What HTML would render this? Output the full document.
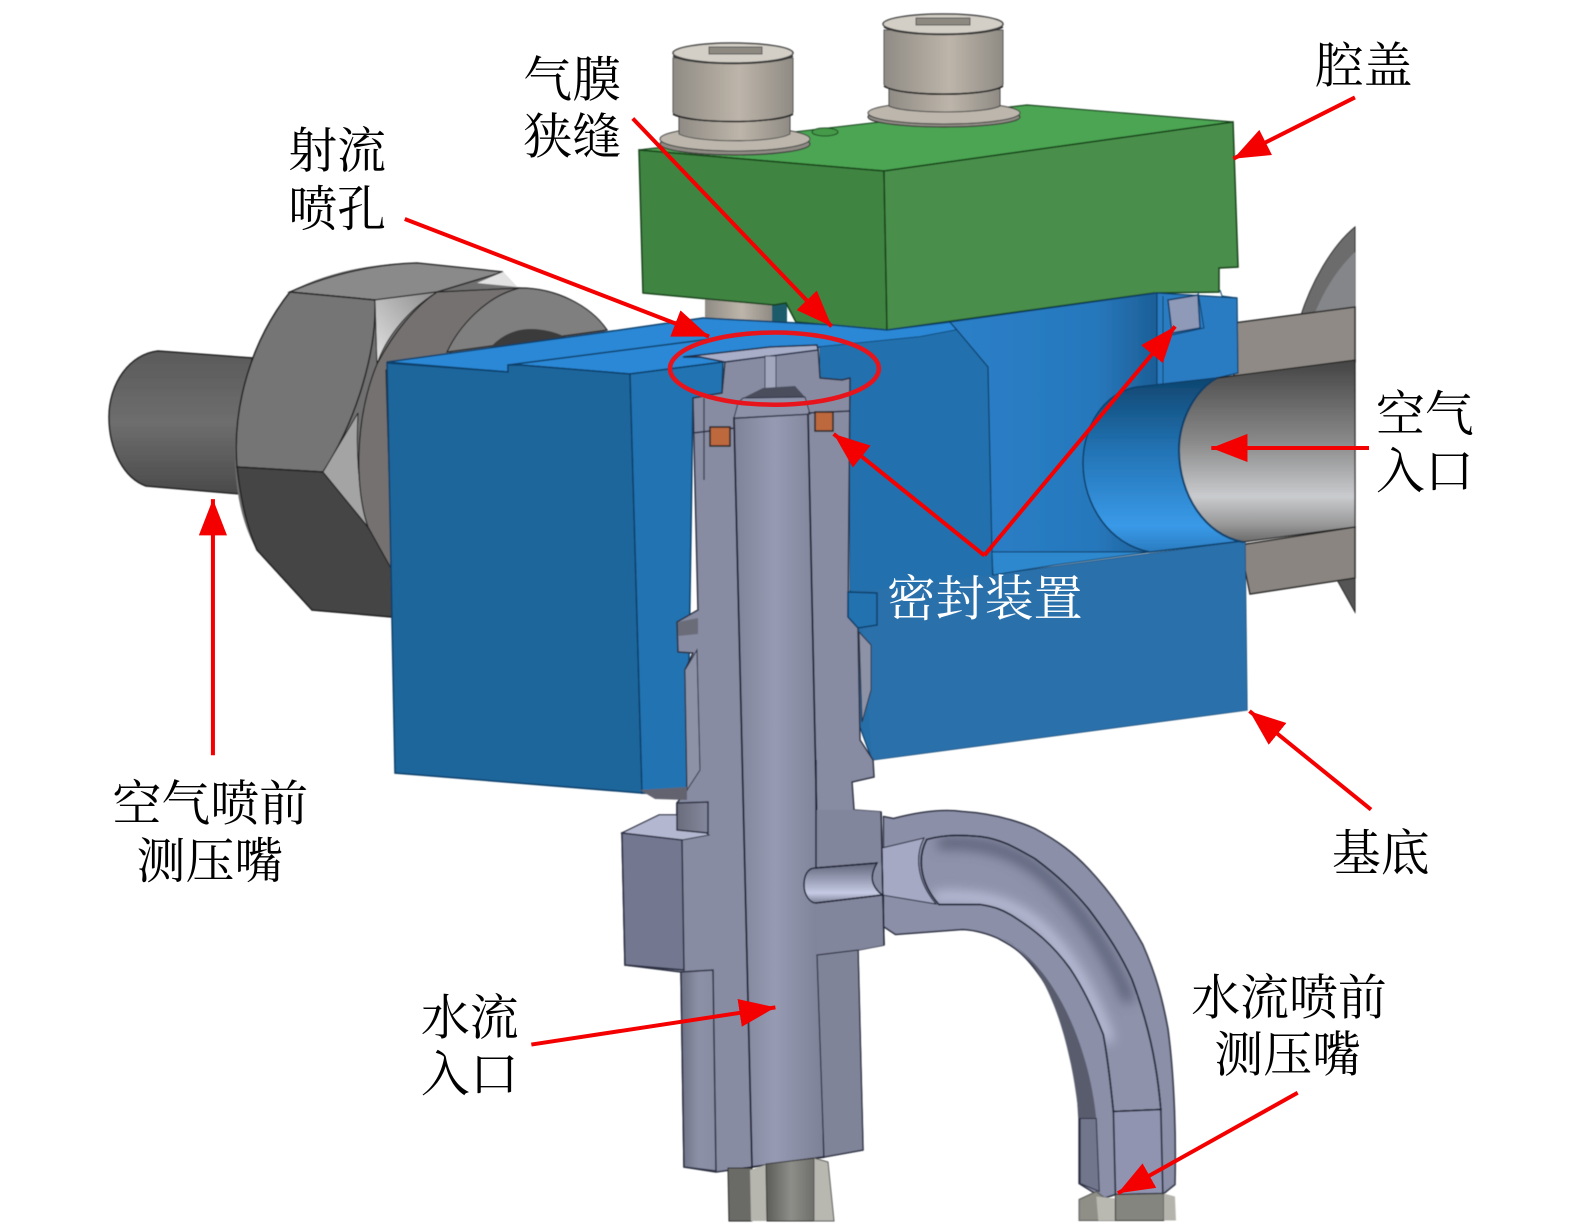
<!DOCTYPE html>
<html lang="zh">
<head>
<meta charset="utf-8">
<title>结构示意图</title>
<style>
html,body{margin:0;padding:0;background:#fff;}
svg{display:block;}
text{font-family:"Liberation Serif","Noto Serif CJK SC",serif;font-size:48.7px;fill:#000;}
</style>
</head>
<body>
<svg width="1575" height="1231" viewBox="0 0 1575 1231" xmlns="http://www.w3.org/2000/svg">
<defs>
<linearGradient id="stub" x1="0" y1="0" x2="0" y2="1"><stop offset="0" stop-color="#5a5a5a"/><stop offset=".5" stop-color="#6e6e6e"/><stop offset="1" stop-color="#4a4a4a"/></linearGradient>
<linearGradient id="cyl" x1="0" y1="0" x2="0" y2="1"><stop offset="0" stop-color="#444"/><stop offset=".45" stop-color="#8a8a8a"/><stop offset=".75" stop-color="#c9cbce"/><stop offset=".9" stop-color="#9a9a9a"/><stop offset="1" stop-color="#6a6a6a"/></linearGradient>
<linearGradient id="hole" x1="0" y1="0" x2="0" y2="1"><stop offset="0" stop-color="#0f4670"/><stop offset=".4" stop-color="#2272b2"/><stop offset=".85" stop-color="#3a9ae8"/><stop offset="1" stop-color="#2a7cc0"/></linearGradient>
<linearGradient id="mid" x1="0" y1="0" x2="1" y2="0"><stop offset="0" stop-color="#2a80c8"/><stop offset=".7" stop-color="#2878bc"/><stop offset="1" stop-color="#1c5f98"/></linearGradient>
<linearGradient id="bolt" x1="0" y1="0" x2="1" y2="0"><stop offset="0" stop-color="#8f8b84"/><stop offset=".55" stop-color="#bdb5aa"/><stop offset="1" stop-color="#8f8b84"/></linearGradient>
<linearGradient id="bore" x1="0" y1="0" x2="1" y2="0"><stop offset="0" stop-color="#7f8399"/><stop offset=".45" stop-color="#969ab2"/><stop offset="1" stop-color="#7d8197"/></linearGradient>
<linearGradient id="cross" x1="0" y1="0" x2="0" y2="1"><stop offset="0" stop-color="#62667c"/><stop offset=".75" stop-color="#c6cbe4"/><stop offset="1" stop-color="#7c8096"/></linearGradient>
<linearGradient id="tab" x1="0" y1="0" x2="1" y2="0"><stop offset="0" stop-color="#6a6c7c"/><stop offset="1" stop-color="#85899d"/></linearGradient>
<linearGradient id="leg" x1="0" y1="0" x2="1" y2="0"><stop offset="0" stop-color="#6c7084"/><stop offset=".5" stop-color="#8d91a7"/><stop offset="1" stop-color="#888ca2"/></linearGradient>
<linearGradient id="hex" x1="0" y1="0" x2="1" y2="0"><stop offset="0" stop-color="#5c5c58"/><stop offset=".5" stop-color="#8e8e89"/><stop offset="1" stop-color="#6c6c68"/></linearGradient>
<linearGradient id="tri" x1="1" y1="0" x2="0" y2="1"><stop offset="0" stop-color="#8c8c8c"/><stop offset="1" stop-color="#e4e4e4"/></linearGradient>
<marker id="ah" markerUnits="userSpaceOnUse" markerWidth="42" markerHeight="30" refX="36" refY="14" orient="auto"><path d="M0,0 L36,14 L0,28 Z" fill="#f40000"/></marker>
<filter id="s" x="-2%" y="-2%" width="104%" height="104%"><feGaussianBlur stdDeviation=".45"/></filter>
<filter id="b" filterUnits="userSpaceOnUse" x="880" y="800" width="320" height="400"><feGaussianBlur stdDeviation="6"/></filter>
<clipPath id="borec"><path d="M924,838 C945,832 965,834 977,835 C1000,838 1015,848 1031,857 C1055,875 1070,890 1084,907 C1105,935 1117,955 1127,977 C1143,1020 1152,1060 1156,1108 L1109,1110 C1106,1080 1103,1055 1099,1033 C1088,1005 1078,985 1066,967 C1048,942 1030,928 1013,917 C1000,908 990,905 977,903 L936,903 C916,880 915,855 924,838 Z"/></clipPath>
</defs>

<g filter="url(#s)">
<!-- right disc and plates -->
<path d="M1300,318 C1312,280 1333,245 1355,227 L1355,320 Z" fill="#6c6c6c" stroke="#2c2c2c"/>
<path d="M1314,315 C1324,290 1338,268 1355,252 L1355,320 Z" fill="#85868a"/>
<path d="M1336,578 L1355,575 L1355,612 Z" fill="#555" stroke="#222"/>
<path d="M1234,323 L1355,307 L1355,362 L1234,378 Z" fill="#8f8a85" stroke="#2a2a2a" stroke-width="1.5"/>
<path d="M1240,545 L1355,527 L1355,578 L1250,594 Z" fill="#8a8580" stroke="#2a2a2a" stroke-width="1.5"/>

<!-- left fitting -->
<path d="M158,351 L252,358 L240,494 L146,486 C124,478 109,450 109,417 C109,383 130,354 158,351 Z" fill="url(#stub)" stroke="#222" stroke-width="1.5"/>
<path d="M290,292 C330,270 380,263 417,263 L503,272 L517,287 L540,290 C565,292 590,308 607,330 L460,420 L392,617 L312,610 L257,550 C242,525 235,490 235,455 C235,390 258,335 290,292 Z" fill="#6f6f6f"/>
<path d="M290,292 C335,272 380,264 417,263 L503,272 L437,292 L375,300 Z" fill="#8a8a8a" stroke="#2a2a2a" stroke-width="1.5"/>
<path d="M290,292 L375,300 C377,350 357,420 323,472 L237,467 C232,405 252,340 290,292 Z" fill="#747474" stroke="#222" stroke-width="1.5"/>
<path d="M237,467 L323,472 L368,527 L392,565 L392,617 L312,610 L257,550 C246,525 240,495 237,467 Z" fill="#444" stroke="#222" stroke-width="1.5"/>
<path d="M323,472 L358,413 C356,450 358,490 368,527 Z" fill="#a4a4a4" stroke="#222"/>
<path d="M375,300 L437,292 C405,312 385,340 377,364 Z" fill="url(#tri)" stroke="#222"/>
<path d="M477,283 L503,272 L517,287 Z" fill="#e2e2e2"/>
<path d="M377,364 C390,340 410,310 437,292 L520,288 C490,300 460,330 447,360 L386,370 L392,570 L368,527 C355,490 354,420 377,364 Z" fill="#74716f" stroke="#222" stroke-width="1.2"/>
<path d="M447,352 C458,328 485,296 520,288 C555,288 590,305 607,330 Z" fill="#7f7f7f" stroke="#222" stroke-width="1.2"/>
<path d="M490,348 C500,336 515,329 530,329 C545,329 558,333 565,337 Z" fill="#3a3a3a"/>

<!-- bolt shaft below the cover -->
<path d="M705,295 L772,295 L772,330 L705,330 Z" fill="url(#bolt)"/>
<path d="M772,303 L787,303 L787,330 L772,330 Z" fill="#1d5c6a"/>

<!-- green cover -->
<path d="M639,150 L1027,105 L1233,122 L884,171 Z" fill="#4ca552" stroke="#14401a" stroke-width="1.2"/>
<ellipse cx="825" cy="132" rx="13" ry="4" fill="#449a4a" stroke="#173f1b"/>
<path d="M639,150 L884,171 L887,330 L829,325 L796,322 L786,303 L774,305 L643,293 Z" fill="#3f8442" stroke="#123f17" stroke-width="1.5"/>
<path d="M884,171 L1233,122 L1238,267 L1219,268 L1219,292 L1154,293 L887,330 Z" fill="#4a8f4c" stroke="#123f17" stroke-width="1.5"/>

<!-- bolts -->
<ellipse cx="735" cy="144" rx="75" ry="11" fill="#8f8b84" stroke="#3a3a3a" stroke-width="1.2"/>
<ellipse cx="735" cy="139" rx="75" ry="12" fill="#bcb6ac" stroke="#3a3a3a" stroke-width="1"/>
<path d="M679,116 L679,134 C695,143 775,143 790,134 L790,116 Z" fill="url(#bolt)" stroke="#444"/>
<path d="M673,58 L673,112 C673,125 793,125 793,112 L793,58 Z" fill="url(#bolt)" stroke="#555"/>
<path d="M673,114 C690,124 776,124 793,114" fill="none" stroke="#222" stroke-width="1.6"/>
<ellipse cx="733" cy="53" rx="60" ry="10" fill="#d3cfc6" stroke="#444" stroke-width="1.5"/>
<path d="M673,56 C690,66 776,66 793,56" fill="none" stroke="#333" stroke-width="1.5"/>
<rect x="709" y="47" width="53" height="7" fill="#8d8981" stroke="#555"/>

<ellipse cx="944" cy="117" rx="76" ry="10" fill="#8f8b84" stroke="#3a3a3a" stroke-width="1.2"/>
<ellipse cx="944" cy="113" rx="76" ry="11" fill="#bcb6ac" stroke="#3a3a3a" stroke-width="1"/>
<path d="M889,89 L889,106 C905,114 985,114 1000,106 L1000,89 Z" fill="url(#bolt)" stroke="#444"/>
<path d="M884,30 L884,84 C884,97 1003,97 1003,84 L1003,30 Z" fill="url(#bolt)" stroke="#555"/>
<path d="M884,86 C900,97 987,97 1003,86" fill="none" stroke="#222" stroke-width="1.6"/>
<ellipse cx="943" cy="24" rx="60" ry="10" fill="#d3cfc6" stroke="#444" stroke-width="1.5"/>
<path d="M884,27 C900,37 987,37 1003,27" fill="none" stroke="#333" stroke-width="1.5"/>
<rect x="916" y="18" width="54" height="7" fill="#8d8981" stroke="#555"/>

<!-- blue back/top -->
<path d="M387,362 L620,330 L703,318 L833,325 L887,330 L950,322 L957,330 L920,337 L820,347 L723,362 L630,374 L520,365 L508,365 L508,372 Z" fill="#2a88d6" stroke="#0d3f6a" stroke-width="1.5" stroke-linejoin="round"/>
<path d="M508,365 L703,340 L770,332" fill="none" stroke="#0d3f6a" stroke-width="1.5"/>
<!-- left outer face -->
<path d="M387,363 L508,372 L508,365 L520,365 L630,374 L642,793 L395,773 Z" fill="#1f669c" stroke="#0d3f6a" stroke-width="1.5"/>
<!-- section face left -->
<path d="M630,374 L723,362 L722,393 L693,398 L687,795 L642,793 Z" fill="#2173b2" stroke="#0d3f6a" stroke-width="1.5"/>

<!-- blue right faces -->
<path d="M820,347 L920,337 L957,330 L988,367 L992,575 L1245,541 L1247,710 L872,760 L850,700 L850,378 L842,380 L820,378 Z" fill="#256ea7" stroke="#0d3f6a" stroke-width="1.2"/>
<path d="M820,347 L920,337 L957,330 L988,367 L992,575 L875,590 L850,590 L850,378 L842,380 L820,378 Z" fill="#2070ad"/>
<path d="M992,575 L1245,541 L1247,710 L872,760 L862,620 L875,590 Z" fill="#2a70aa"/>
<!-- middle -->
<path d="M950,322 L1157,293 L1157,386 L1137,387 C1105,392 1083,425 1083,463 C1083,505 1110,545 1150,552 L992,552 L988,367 L957,330 Z" fill="url(#mid)" stroke="#0d3f6a" stroke-width="1.2"/>
<path d="M1157,293 L1237,298 L1238,373 L1217,378 L1157,386 Z" fill="#2a7cc2" stroke="#0d3f6a" stroke-width="1.2"/>
<path d="M992,552 L1150,552 L1055,565 L993,575 Z" fill="#2f88ce" stroke="#0d3f6a"/>
<path d="M1237,298 L1222,296 L1220,290" fill="none" stroke="#0d3f6a"/>
<path d="M1163,296 L1163,384" fill="none" stroke="#0d3f6a"/>
<path d="M1168,300 L1198,295 L1200,328 L1172,333 Z" fill="#8f99b8" stroke="#123f6a" stroke-width="1.5"/>
<path d="M1198,292 L1204,328 L1172,335" fill="none" stroke="#0d3f6a"/>
<!-- bore in block -->
<path d="M1217,378 L1137,387 C1105,392 1083,425 1083,463 C1083,505 1110,545 1150,552 L1243,541 C1205,530 1181,495 1181,450 C1181,420 1195,390 1217,378 Z" fill="url(#hole)" stroke="#0d3f6a" stroke-width="1.5"/>
<!-- air inlet cylinder -->
<path d="M1217,378 L1355,360 L1355,527 L1243,542 C1205,535 1179,495 1179,450 C1179,420 1195,390 1217,378 Z" fill="url(#cyl)" stroke="#1b1b1b" stroke-width="1.2"/>
<path d="M1217,378 C1195,390 1179,420 1179,450 C1179,495 1205,535 1243,542" fill="none" stroke="#0d3f6a" stroke-width="2"/>

<!-- elbow -->
<g transform="translate(-5.58,1.5) scale(1.009,1)">
<path d="M881,815 L891,817 C925,808 945,808 959,810 C990,812 1015,820 1031,827 C1055,840 1070,852 1084,867 C1110,895 1125,920 1138,943 C1152,975 1158,1000 1163,1027 C1170,1080 1171,1140 1170,1183 L1159,1192 L1111,1193 L1099,1197 L1075,1182 L1075,1117 C1073,1085 1072,1070 1070,1053 C1060,1018 1050,995 1038,977 C1020,950 1008,944 995,937 C980,930 965,928 959,928 L893,933 L881,925 Z" fill="#8b8fa7" stroke="#2a2e40" stroke-width="1.5" stroke-linejoin="round"/>
<path d="M924,838 C945,832 965,834 977,835 C1000,838 1015,848 1031,857 C1055,875 1070,890 1084,907 C1105,935 1117,955 1127,977 C1143,1020 1152,1060 1156,1108 L1109,1110 C1106,1080 1103,1055 1099,1033 C1088,1005 1078,985 1066,967 C1048,942 1030,928 1013,917 C1000,908 990,905 977,903 L936,903 C916,880 915,855 924,838 Z" fill="#8e92aa" stroke="#1f2335" stroke-width="1.5"/>
<g clip-path="url(#borec)">
<path d="M930,896 C985,892 1010,905 1030,920 C1060,945 1085,985 1105,1040" fill="none" stroke="#c2c6e0" stroke-width="10" filter="url(#b)"/>
<path d="M935,842 C985,838 1015,853 1040,873 C1075,905 1105,950 1125,1000" fill="none" stroke="#5c6078" stroke-width="12" filter="url(#b)"/>
</g>
<path d="M924,838 C945,832 965,834 977,835 C1000,838 1015,848 1031,857 C1055,875 1070,890 1084,907 C1105,935 1117,955 1127,977 C1143,1020 1152,1060 1156,1108 L1109,1110 C1106,1080 1103,1055 1099,1033 C1088,1005 1078,985 1066,967 C1048,942 1030,928 1013,917 C1000,908 990,905 977,903 L936,903 C916,880 915,855 924,838 Z" fill="none" stroke="#1f2335" stroke-width="1.5"/>
<path d="M1109,1110 L1156,1108 L1158,1192 L1111,1193 Z" fill="#9094b0" stroke="#1f2335" stroke-width="1.5"/>
<path d="M1000,937 C1032,952 1064,1010 1075,1117 L1092,1117 C1084,1040 1050,965 1000,937 Z" fill="#595c6d"/>
<path d="M1076,1117 L1092,1117 L1095,1190 L1076,1182 Z" fill="#72768c" stroke="#2a2e40"/>
<path d="M1075,1198 L1092,1190 L1110,1204 L1110,1219 L1075,1219 Z" fill="#8f8f87" stroke="#555"/>
<path d="M1092,1195 L1112,1197 L1112,1219 L1094,1219 Z" fill="#b9b9b1"/>
<path d="M1111,1193 L1159,1192 L1159,1219 L1111,1219 Z" fill="#85857f" stroke="#333"/>
<path d="M1159,1192 L1170,1195 L1171,1219 L1159,1219 Z" fill="#b4b4ac"/>
</g>
<path d="M882,848 L924,838 C915,855 916,880 936,904 L882,895 Z" fill="#a5a9c4" stroke="#1f2335"/>

<!-- centre column -->
<path d="M725,362 L722,393 L693,398 L698,610 L677,622 L678,652 L693,653 L685,670 L687,790 L677,803 L677,815 L659,815 L622,833 L625,965 L681,972 L684,1167 L716,1172 L752,1167 L824,1157 L863,1150 L858,950 L884,945 L881,812 L854,810 L852,782 L874,777 L873,760 L860,740 L858,628 L848,617 L850,378 L842,380 L820,378 L818,348 Z" fill="#878ca3" stroke="#2a2e40" stroke-width="1.5" stroke-linejoin="round"/>
<path d="M848,592 L877,593 L877,625 L858,628 L848,617 Z" fill="#2272b0" stroke="#0d3f6a" stroke-width="1.5"/>
<path d="M859,632 L871,645 L871,690 L862,722 Z" fill="#8e92a6" stroke="#2a2e40"/>
<path d="M678,622 L698,618 L698,634 L678,636 Z" fill="#6b6c78"/>
<path d="M685,670 L697,650 L700,770 L687,790 Z" fill="#8e92a6" stroke="#2a2e40"/>
<path d="M734,418 L808,414 L824,1157 L752,1167 Z" fill="url(#bore)" stroke="#1f2335" stroke-width="1.8"/>
<path d="M622,833 L659,815 L677,815 L709,835 L682,840 Z" fill="#b3b7d0" stroke="#2a2e40"/>
<path d="M622,833 L682,840 L684,970 L625,965 Z" fill="#737790" stroke="#2a2e40" stroke-width="1.5"/>
<path d="M677,803 L708,802 L708,833 L677,830 Z" fill="url(#tab)" stroke="#2a2e40" stroke-width="1.5"/>
<path d="M681,972 L713,970 L716,1171 L684,1167 Z" fill="url(#leg)" stroke="#2a2e40" stroke-width="1.5"/>
<path d="M640,790 L687,787 L687,800 L655,799 Z" fill="#63646f"/>
<!-- cross bore -->
<path d="M816,810 L854,810 L881,812 L881,863 L816,868 Z" fill="#82869c"/>
<path d="M816,903 L882,895 L884,945 L858,950 L817,955 Z" fill="#82869c"/>
<path d="M858,950 L863,1150 L824,1157 L817,955 Z" fill="#808499" stroke="#2a2e40" stroke-width="1.2"/>
<path d="M804,885 C804,875 808,868 815,868 L877,863 C870,875 870,885 882,895 L816,903 C810,903 804,895 804,885 Z" fill="url(#cross)" stroke="#1f2335" stroke-width="1.5"/>
<path d="M881,812 L884,945 M816,868 L877,863 M816,903 L882,895 M816,760 L816,868" stroke="#1f2335" stroke-width="1.5" fill="none"/>
<!-- top of column details -->
<path d="M683,357 L770,347 L817,345 L818,350 L725,362 L700,357 Z" fill="#a8aec8" stroke="#1f2a45" stroke-width="1.5"/>
<rect x="765" y="356" width="11" height="33" fill="#a2a7be" stroke="#3a3e50"/>
<path d="M743,398 L763,388 L795,386 L805,397 Z" fill="#4a4d5c"/>
<path d="M734,418 L738,403 L743,398 L805,397 L810,414 Z" fill="#8d92a9" stroke="#2a2e40"/>
<path d="M693,433 L735,428 M808,413 L850,411" stroke="#2a2e40" stroke-width="1.5"/>
<path d="M704,398 L704,480" stroke="#2a2e40" stroke-width="1.2"/>
<rect x="710" y="427" width="20" height="19" fill="#bd683c" stroke="#222" stroke-width="1.5"/>
<rect x="815" y="412" width="18" height="19" fill="#bd683c" stroke="#222" stroke-width="1.5"/>

<!-- bottom hex -->
<path d="M728,1168 L752,1168 L752,1221 L729,1221 Z" fill="#6a6a66" stroke="#222"/>
<path d="M750,1170 L768,1164 L768,1221 L751,1221 Z" fill="#b6b6ae"/>
<path d="M766,1164 L816,1158 L816,1221 L767,1221 Z" fill="url(#hex)" stroke="#333"/>
<path d="M814,1158 L828,1162 L834,1221 L814,1221 Z" fill="#b8b8b0" stroke="#555"/>
</g>

<!-- annotations -->
<g transform="scale(1.0044)">
<ellipse cx="771" cy="367" rx="104" ry="36" fill="none" stroke="#e8141c" stroke-width="4.5"/>
<g stroke="#f40000" stroke-width="4" fill="none">
<line x1="1349" y1="97" x2="1228" y2="158" marker-end="url(#ah)"/>
<line x1="212" y1="752" x2="212" y2="497" marker-end="url(#ah)"/>
<line x1="403" y1="218" x2="706" y2="335" marker-end="url(#ah)"/>
<line x1="630" y1="118" x2="828" y2="325" marker-end="url(#ah)"/>
<line x1="980" y1="553" x2="830" y2="432" marker-end="url(#ah)"/>
<line x1="980" y1="553" x2="1170" y2="325" marker-end="url(#ah)"/>
<line x1="1363" y1="446" x2="1206" y2="446" marker-end="url(#ah)"/>
<line x1="1365" y1="806" x2="1244" y2="708" marker-end="url(#ah)"/>
<line x1="529" y1="1040" x2="772" y2="1003" marker-end="url(#ah)"/>
<line x1="1292" y1="1088" x2="1113" y2="1188" marker-end="url(#ah)"/>
</g>
<text x="521" y="96">气膜</text>
<text x="521" y="153">狭缝</text>
<text x="287" y="167">射流</text>
<text x="287" y="225">喷孔</text>
<text x="1309" y="82">腔盖</text>
<text x="1370" y="429">空气</text>
<text x="1370" y="486">入口</text>
<text x="883" y="613" style="fill:#fff">密封装置</text>
<text x="112" y="817">空气喷前</text>
<text x="136" y="874">测压嘴</text>
<text x="1326" y="866">基底</text>
<text x="419" y="1030">水流</text>
<text x="419" y="1086">入口</text>
<text x="1186" y="1010">水流喷前</text>
<text x="1209" y="1067">测压嘴</text>
</g>
</svg>
</body>
</html>
